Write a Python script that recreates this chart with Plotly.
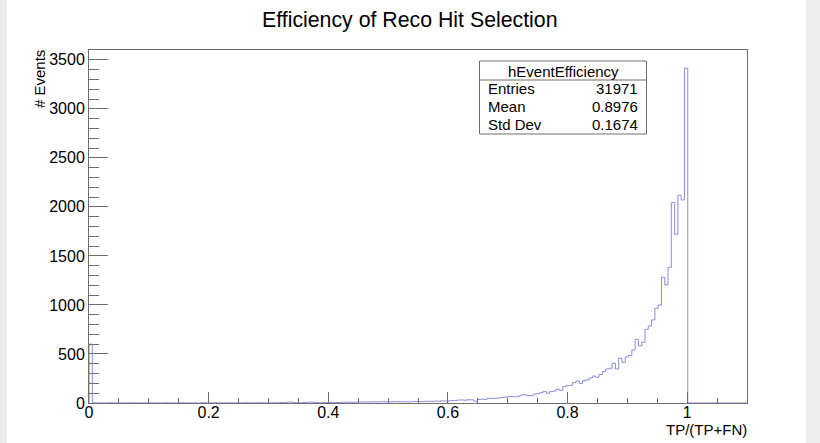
import plotly.graph_objects as go

# Histogram binning: 200 bins on [0, 1.1]
n_bins = 200
x_low, x_high = 0.0, 1.1

# Bin contents of hEventEfficiency (bin 0 .. bin 199)
counts_low = [600,
              2, 1, 1, 0, 1, 2, 1, 0, 1, 1, 0, 1, 2, 1, 0, 1, 1, 2, 0, 1,
              1, 0, 2, 1, 1, 0, 1, 2, 1, 1, 0, 1, 1, 2, 1, 0, 1, 2, 1, 1,
              1, 2, 1, 0, 2, 1, 3, 1, 2, 1, 2, 3, 1, 2, 2]
counts_mid = [3, 2, 4, 3, 9, 10, 4, 3, 2, 5, 8, 9, 7, 4, 3, 5, 4, 6, 5, 4, 6, 8, 9, 8, 7,
              9, 11, 10, 12, 10, 13, 11, 12, 14, 12, 11, 13, 15, 12, 14, 13, 12, 15, 16, 14,
              15, 18, 17, 16, 20, 18, 22, 19, 21, 24, 26]
counts_rise = [30, 31, 29, 33, 32, 18, 36, 38, 37, 46, 49, 47, 50, 57, 59, 64, 66, 63, 68,
               80, 84, 76, 74, 91, 94,
               105, 116, 100, 116, 122, 139, 128, 167, 177, 180, 207, 224, 200, 228, 235,
               255, 275, 263]
counts_peak = [290, 320, 347, 354, 405, 347, 456, 415, 470, 485, 541, 650, 582, 619,
               752, 786, 847, 966, 1000, 1282, 1204, 1384, 2044, 1721, 2119, 2071, 3415]
counts = counts_low + counts_mid + counts_rise + counts_peak
counts += [0] * (n_bins - len(counts))

stats_name = "hEventEfficiency"
stats_rows = [("Entries", "31971"), ("Mean", "0.8976"), ("Std Dev", "0.1674")]

title_text = "Efficiency of Reco Hit Selection"
x_title = "TP/(TP+FN)"
y_title = "# Events"
x_tickvals = [0, 0.2, 0.4, 0.6, 0.8, 1.0]
x_ticktext = ["0", "0.2", "0.4", "0.6", "0.8", "1"]
y_tickvals = [0, 500, 1000, 1500, 2000, 2500, 3000, 3500]

# Step outline of the histogram
width = (x_high - x_low) / n_bins
edges = [x_low + i * width for i in range(n_bins + 1)]
xs = [edges[0]] + edges[:-1] + [edges[-1], edges[-1]]
ys = [0] + counts + [counts[-1], 0]

W, H = 820, 443
L, R, T, B = 89, 73, 50, 40
PW, PH = W - L - R, H - T - B


def px(p):
    return (p - L) / PW


def py(p):
    return (H - B - p) / PH


FONT = "Liberation Sans, Arial, Helvetica, sans-serif"
frame_col = "#6e6e6e"

fig = go.Figure()
fig.add_trace(go.Scatter(x=xs, y=ys, mode="lines", line=dict(color="#8a8ade", width=1, shape="hv"),
                         hoverinfo="skip", showlegend=False))

shapes = [
    # canvas: grey side strips around the white pad
    dict(type="rect", xref="paper", yref="paper", x0=px(7), x1=px(806), y0=py(H), y1=py(0),
         fillcolor="white", line=dict(width=0), layer="below"),
    # stats box
    dict(type="rect", xref="paper", yref="paper", x0=px(479.5), x1=px(646.5), y0=py(134), y1=py(61),
         fillcolor="white", line=dict(color=frame_col, width=1)),
    dict(type="line", xref="paper", yref="paper", x0=px(479.5), x1=px(646.5), y0=py(80), y1=py(80),
         line=dict(color=frame_col, width=1)),
]

annotations = [
    dict(text=title_text, xref="paper", yref="paper", x=px(410), y=py(20), showarrow=False,
         xanchor="center", yanchor="middle", font=dict(size=21.3, color="black", family=FONT)),
    dict(text=x_title, xref="paper", yref="paper", x=px(749), y=py(429), showarrow=False,
         xanchor="right", yanchor="middle", font=dict(size=15, color="black", family=FONT)),
    dict(text=y_title, xref="paper", yref="paper", x=px(40), y=py(48), showarrow=False,
         textangle=-90, xanchor="center", yanchor="top", font=dict(size=15, color="black", family=FONT)),
    dict(text=stats_name, xref="paper", yref="paper", x=px(563), y=py(71), showarrow=False,
         xanchor="center", yanchor="middle", font=dict(size=15, color="black", family=FONT)),
]
row_y = [89, 107, 125]
for (lab, val), yy in zip(stats_rows, row_y):
    annotations.append(dict(text=lab, xref="paper", yref="paper", x=px(486), y=py(yy), showarrow=False,
                            xanchor="left", yanchor="middle", font=dict(size=15, color="black", family=FONT)))
    annotations.append(dict(text=val, xref="paper", yref="paper", x=px(640), y=py(yy), showarrow=False,
                            xanchor="right", yanchor="middle", font=dict(size=15, color="black", family=FONT)))

fig.update_layout(
    width=W, height=H,
    margin=dict(l=L, r=R, t=T, b=B, pad=0),
    paper_bgcolor="#ececec", plot_bgcolor="white",
    shapes=shapes, annotations=annotations,
    font=dict(family=FONT, size=15, color="black"),
    xaxis=dict(range=[x_low, x_high], tickmode="array", tickvals=x_tickvals, ticktext=x_ticktext,
               ticks="inside", ticklen=11, tickcolor=frame_col, showgrid=False, zeroline=False,
               showline=True, linecolor=frame_col, linewidth=1, mirror=True, ticklabelstandoff=-5,
               minor=dict(dtick=0.05, tick0=0, ticks="inside", ticklen=5, tickcolor=frame_col, showgrid=False),
               tickfont=dict(size=16, color="black", family=FONT)),
    yaxis=dict(range=[0, 3600], tickmode="array", tickvals=y_tickvals,
               ticks="inside", ticklen=19, tickcolor=frame_col, showgrid=False, zeroline=False,
               showline=True, linecolor=frame_col, linewidth=1, mirror=True,
               minor=dict(dtick=100, tick0=0, ticks="inside", ticklen=10, tickcolor=frame_col, showgrid=False),
               tickfont=dict(size=16, color="black", family=FONT)),
)

fig.write_html("out.html")
